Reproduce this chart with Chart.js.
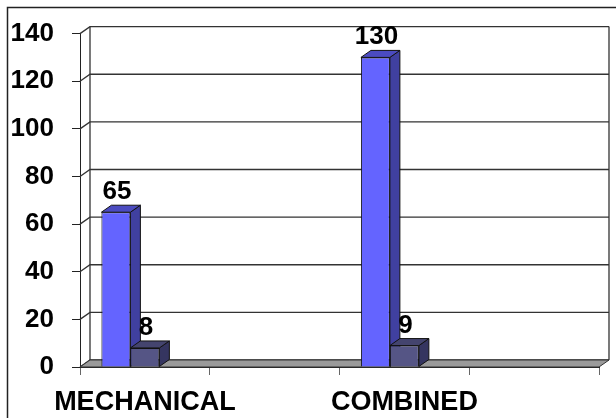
<!DOCTYPE html>
<html><head><meta charset="utf-8">
<script src="https://cdn.jsdelivr.net/npm/chart.js@4/dist/chart.umd.min.js"></script>
<style>html,body{margin:0;padding:0;background:#fff;}canvas{display:block}</style>
</head><body>
<canvas id="c" width="616" height="418"></canvas>
<script>
const categories = ['MECHANICAL', '', 'COMBINED', ''];
const seriesA = [65, null, 130, null];
const seriesB = [8, null, 9, null];
const spacer = [null, null, null, null];
const yTicks = [0, 20, 40, 60, 80, 100, 120, 140];

const FONT = '"Liberation Sans", Arial, sans-serif';
const DX = 10, DY = 7;
const faces = [
  {front: '#6464ff', top: '#4b4bc0', side: '#4040a0'},
  {front: '#555585', top: '#44446e', side: '#353560'}
];

function poly(ctx, pts, fill, stroke) {
  ctx.beginPath();
  ctx.moveTo(pts[0][0], pts[0][1]);
  for (let i = 1; i < pts.length; i++) ctx.lineTo(pts[i][0], pts[i][1]);
  ctx.closePath();
  if (fill) { ctx.fillStyle = fill; ctx.fill(); }
  if (stroke) { ctx.strokeStyle = stroke; ctx.stroke(); }
}

const plugin3d = {
  id: 'plot3d',
  beforeDraw(chart) {
    const ctx = chart.ctx;
    ctx.save();
    ctx.strokeStyle = '#222';
    ctx.lineWidth = 1.5;
    ctx.beginPath();
    ctx.moveTo(7.5, 420);
    ctx.lineTo(7.5, 7.5);
    ctx.lineTo(620, 7.5);
    ctx.stroke();
    ctx.restore();
  },
  beforeDatasetsDraw(chart) {
    const {ctx, chartArea: a, scales: {x, y}} = chart;
    ctx.save();
    ctx.lineWidth = 1.3;
    ctx.strokeStyle = '#333';
    yTicks.forEach(v => {
      const py = y.getPixelForValue(v);
      ctx.beginPath();
      ctx.moveTo(a.left, py);
      ctx.lineTo(a.left + DX, py - DY);
      ctx.lineTo(a.right + DX, py - DY);
      ctx.stroke();
    });
    const top = y.getPixelForValue(140), bot = y.getPixelForValue(0);
    ctx.beginPath();
    ctx.moveTo(a.left + DX, top - DY); ctx.lineTo(a.left + DX, bot - DY);
    ctx.moveTo(a.right + DX, top - DY); ctx.lineTo(a.right + DX, bot - DY);
    ctx.stroke();
    ctx.lineWidth = 1;
    poly(ctx, [[a.left, bot], [a.left + DX, bot - DY], [a.right + DX, bot - DY], [a.right, bot]], '#9a9a9a', '#333');
    [0, 1].forEach(di => {
      const meta = chart.getDatasetMeta(di);
      meta.data.forEach((bar, i) => {
        if (chart.data.datasets[di].data[i] == null) return;
        const p = bar.getProps(['x', 'y', 'base', 'width'], true);
        const l = p.x - p.width / 2, r = p.x + p.width / 2;
        poly(ctx, [[r, p.y], [r + DX, p.y - DY], [r + DX, p.base - DY], [r, p.base]], faces[di].side, '#111');
        poly(ctx, [[l, p.y], [l + DX, p.y - DY], [r + DX, p.y - DY], [r, p.y]], faces[di].top, '#111');
      });
    });
    ctx.restore();
  },
  afterDatasetsDraw(chart) {
    const ctx = chart.ctx;
    ctx.save();
    ctx.fillStyle = '#000';
    ctx.font = 'bold 26px ' + FONT;
    ctx.textAlign = 'center';
    ctx.textBaseline = 'alphabetic';
    [0, 1].forEach(di => {
      const meta = chart.getDatasetMeta(di);
      meta.data.forEach((bar, i) => {
        const v = chart.data.datasets[di].data[i];
        if (v == null) return;
        const p = bar.getProps(['x', 'y'], true);
        ctx.fillText(String(v), p.x + 1, p.y - 13);
      });
    });
    ctx.restore();
  }
};

new Chart(document.getElementById('c'), {
  type: 'bar',
  data: {
    labels: categories,
    datasets: [
      {label: 'A', data: seriesA, backgroundColor: faces[0].front, borderColor: '#111', borderWidth: 1},
      {label: 'B', data: seriesB, backgroundColor: faces[1].front, borderColor: '#111', borderWidth: 1},
      {label: '', data: spacer, backgroundColor: 'rgba(0,0,0,0)', borderWidth: 0}
    ]
  },
  options: {
    responsive: false,
    animation: false,
    devicePixelRatio: 1,
    layout: {padding: {top: 30, right: 17, left: 0, bottom: 0}},
    datasets: {bar: {categoryPercentage: 0.67, barPercentage: 1.0}},
    plugins: {legend: {display: false}, tooltip: {enabled: false}},
    scales: {
      x: {
        grid: {drawOnChartArea: false, drawTicks: true, tickLength: 8, color: '#666', offset: true},
        border: {display: true, color: '#222', width: 1},
        ticks: {color: '#000', font: {family: FONT, size: 27, weight: 'bold'}, padding: 11, maxRotation: 0, autoSkip: false},
        afterFit(s) { s.height = 51; }
      },
      y: {
        min: 0, max: 140,
        afterBuildTicks(s) { s.ticks = yTicks.map(v => ({value: v})); },
        grid: {drawOnChartArea: false, drawTicks: true, tickLength: 8, color: '#222'},
        border: {display: true, color: '#222', width: 1},
        ticks: {color: '#000', font: {family: FONT, size: 26, weight: 'bold'}, padding: 18},
        afterFit(s) { s.width = 80; }
      }
    }
  },
  plugins: [plugin3d]
});
</script>
</body></html>
